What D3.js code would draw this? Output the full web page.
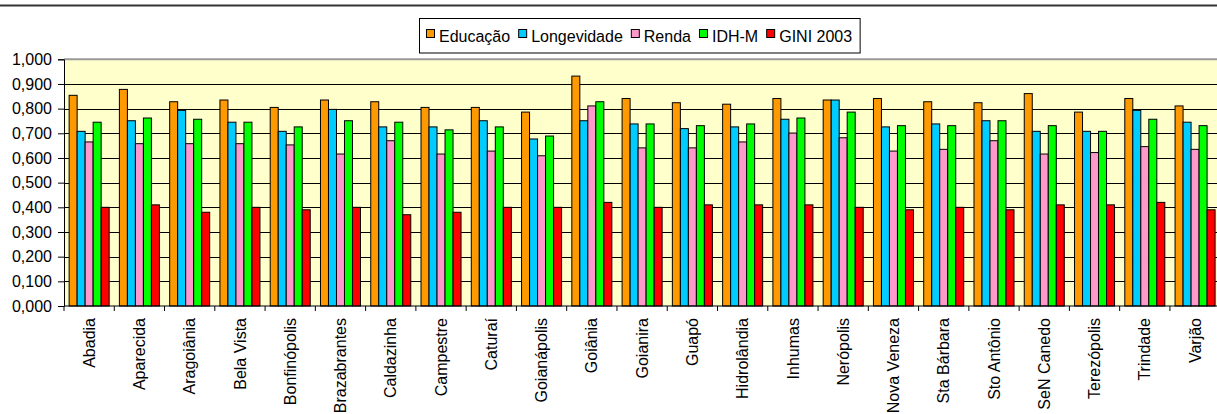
<!DOCTYPE html>
<html>
<head>
<meta charset="utf-8">
<script src="https://cdn.jsdelivr.net/npm/d3@7/dist/d3.min.js"></script>
<style>
  html, body { margin: 0; padding: 0; background: #fff; }
  svg { display: block; font-family: "Liberation Sans", Arial, sans-serif; }
</style>
</head>
<body>
<svg id="chart" width="1217" height="414"></svg>
<script>
const categories = ["Abadia","Aparecida","Aragoiânia","Bela Vista","Bonfinópolis","Brazabrantes","Caldazinha","Campestre","Caturaí","Goianápolis","Goiânia","Goianira","Guapó","Hidrolândia","Inhumas","Nerópolis","Nova Veneza","Sta Bárbara","Sto Antônio","SeN Canedo","Terezópolis","Trindade","Varjão"];
const seriesNames = ["Educação","Longevidade","Renda","IDH-M","GINI 2003"];
const seriesColors = ["#FF9900","#00CCFF","#FF99CC","#00FF00","#FF0000"];
const educacao    = [0.854,0.878,0.828,0.835,0.805,0.835,0.828,0.805,0.805,0.786,0.932,0.841,0.824,0.818,0.841,0.835,0.841,0.828,0.824,0.861,0.786,0.841,0.811];
const longevidade = [0.708,0.751,0.793,0.745,0.708,0.797,0.726,0.726,0.751,0.677,0.751,0.738,0.719,0.726,0.757,0.835,0.726,0.738,0.751,0.708,0.708,0.793,0.745];
const renda       = [0.665,0.658,0.658,0.658,0.653,0.616,0.670,0.616,0.628,0.609,0.811,0.641,0.641,0.665,0.701,0.682,0.628,0.635,0.670,0.616,0.622,0.646,0.635];
const idhm        = [0.745,0.762,0.757,0.745,0.726,0.751,0.745,0.714,0.726,0.689,0.828,0.738,0.731,0.738,0.762,0.786,0.731,0.731,0.751,0.731,0.708,0.757,0.731];
const gini        = [0.400,0.410,0.380,0.400,0.390,0.400,0.370,0.380,0.400,0.400,0.420,0.400,0.410,0.410,0.410,0.400,0.390,0.400,0.390,0.410,0.410,0.420,0.390];
const yTicks = [0,0.1,0.2,0.3,0.4,0.5,0.6,0.7,0.8,0.9,1.0];

const seriesData = [educacao, longevidade, renda, idhm, gini];

const svg = d3.select("#chart");
const W = 1217;
const plot = { left: 64, top: 59.3, bottom: 306, right: 64 + 23 * 50.27 };

// chart area top border
svg.append("line").attr("x1", 0).attr("x2", W).attr("y1", 5.5).attr("y2", 5.5)
  .attr("stroke", "#333").attr("stroke-width", 2);

const x = d3.scaleBand().domain(categories).range([plot.left, plot.right]).paddingInner(0).paddingOuter(0);
const xs = d3.scaleBand().domain(d3.range(seriesNames.length)).range([0, x.bandwidth()]).paddingInner(0).paddingOuter(0.64);
const y = d3.scaleLinear().domain([0, 1]).range([plot.bottom, plot.top]);

// plot background
svg.append("rect").attr("x", plot.left).attr("y", plot.top)
  .attr("width", plot.right - plot.left).attr("height", plot.bottom - plot.top)
  .attr("fill", "#FFFFCC");

// gridlines
svg.append("g").selectAll("line").data(yTicks.filter(t => t > 0 && t < 1)).join("line")
  .attr("x1", plot.left).attr("x2", plot.right)
  .attr("y1", d => Math.round(y(d)) + 0.5).attr("y2", d => Math.round(y(d)) + 0.5)
  .attr("stroke", "#000").attr("stroke-width", 1);

// top border of plot area (gray)
svg.append("line").attr("x1", plot.left).attr("x2", plot.right)
  .attr("y1", plot.top).attr("y2", plot.top)
  .attr("stroke", "#999").attr("stroke-width", 2);

// bars
const groups = svg.append("g").selectAll("g").data(categories).join("g")
  .attr("transform", d => `translate(${x(d)},0)`);
groups.selectAll("rect").data((d, i) => seriesData.map((s, k) => ({ k, v: s[i] }))).join("rect")
  .attr("x", d => xs(d.k))
  .attr("width", xs.bandwidth())
  .attr("y", d => y(d.v))
  .attr("height", d => y(0) - y(d.v))
  .attr("fill", d => seriesColors[d.k])
  .attr("stroke", "#000").attr("stroke-width", 1);

// y axis
const fmt = d3.format(".3f");
const yAxis = d3.axisLeft(y).tickValues(yTicks).tickSize(6).tickPadding(6)
  .tickFormat(d => fmt(d).replace(".", ","));
const gy = svg.append("g").attr("transform", `translate(${plot.left},0)`).call(yAxis);
gy.select(".domain").attr("stroke", "#000");
gy.selectAll(".tick line").attr("stroke", "#000");
gy.selectAll(".tick text").attr("font-size", 16).attr("fill", "#000")
  .attr("font-family", "'Liberation Sans', Arial, sans-serif");

// x axis line
svg.append("line").attr("x1", plot.left).attr("x2", plot.right)
  .attr("y1", plot.bottom).attr("y2", plot.bottom).attr("stroke", "#000");
// x ticks at category boundaries
svg.append("g").selectAll("line").data(d3.range(categories.length + 1)).join("line")
  .attr("x1", i => plot.left + i * x.step()).attr("x2", i => plot.left + i * x.step())
  .attr("y1", plot.bottom).attr("y2", plot.bottom + 5).attr("stroke", "#000");
// x labels
svg.append("g").selectAll("text").data(categories).join("text")
  .attr("transform", d => `translate(${x(d) + x.bandwidth() / 2},318) rotate(-90)`)
  .attr("text-anchor", "end").attr("dy", "0.35em")
  .attr("font-size", 16).attr("fill", "#000")
  .text(d => d);

// legend
const lg = svg.append("g");
const box = lg.append("rect").attr("x", 419.5).attr("y", 18.5).attr("height", 34.5)
  .attr("fill", "#fff").attr("stroke", "#000").attr("stroke-width", 1);
let cx = 426;
seriesNames.forEach((name, k) => {
  lg.append("rect").attr("x", cx + 0.5).attr("y", 29.5).attr("width", 8).attr("height", 8)
    .attr("fill", seriesColors[k]).attr("stroke", "#000").attr("stroke-width", 1);
  const t = lg.append("text").attr("x", cx + 13).attr("y", 41.5)
    .attr("font-size", 16).attr("fill", "#000").text(name);
  const w = t.node().getComputedTextLength();
  cx = cx + 13 + w + 8;
});
box.attr("width", Math.max(cx - 419.5, 10));
</script>
</body>
</html>
